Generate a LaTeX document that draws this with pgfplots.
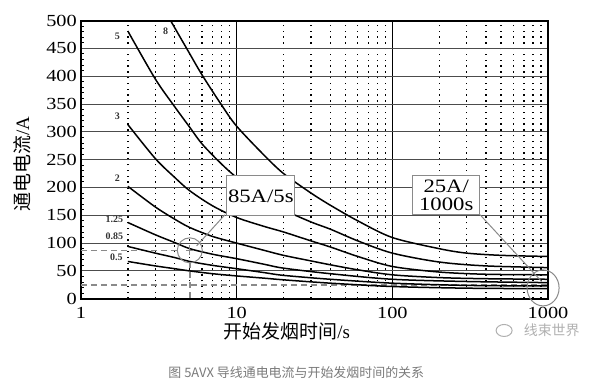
\documentclass[border=0pt]{standalone}
\usepackage{pgfplots}
\pgfplotsset{compat=1.18}
\usepackage{fontspec}
\setmainfont{Liberation Serif}
\newfontfamily\tickfont{Liberation Serif}[FakeStretch=1.2]
\newfontfamily\cjk{Noto Sans CJK SC}
\definecolor{capgray}{HTML}{7A7A7A}
\definecolor{wmgray}{HTML}{B0B0B0}
\definecolor{anngray}{HTML}{8A8A8A}
\begin{document}
\begin{tikzpicture}
\useasboundingbox (-81bp,-88.25bp) rectangle (515bp,298.75bp);
\begin{axis}[
  at={(0,0)}, anchor=south west,
  scale only axis, width=467bp, height=278.25bp,
  xmode=log, log basis x=10,
  xmin=1, xmax=1000, ymin=0, ymax=500,
  clip=false,
  xtick={1,10,100,1000}, xticklabels={1,10,100,1000},
  minor xtick={2,3,4,5,6,7,8,9,20,30,40,50,60,70,80,90,200,300,400,500,600,700,800,900},
  ytick={0,50,...,500},
  minor ytick={10,20,30,40,60,70,80,90,110,120,130,140,160,170,180,190,210,220,230,240,260,270,280,290,310,320,330,340,360,370,380,390,410,420,430,440,460,470,480,490},
  tick pos=left,
  major x tick style={draw=none},
  minor x tick style={draw=none},
  major y tick style={draw=none},
  minor y tick style={black, line width=0.8bp},
  minor tick length=3bp,
  /pgf/number format/assume math mode=true,
  xticklabel style={font=\tickfont\fontsize{17}{19}\selectfont, anchor=north, yshift=-8bp, inner sep=0pt},
  yticklabel style={font=\tickfont\fontsize{17}{19}\selectfont, anchor=east, xshift=-4bp, inner sep=0pt},
  ymajorgrids, xmajorgrids, xminorgrids,
  major y grid style={black!70, line width=0.9bp},
  major x grid style={black, line width=1.5bp},
  minor x grid style={black, line width=1.3bp, dash pattern=on 1.3bp off 4.5bp},
  axis line style={black, line width=2bp},
]
% dashed guide lines
\addplot[anngray, line width=1.5bp, dash pattern=on 6bp off 4bp] coordinates {(1,87) (4.2,87)};
\addplot[anngray, line width=1.5bp, dash pattern=on 6bp off 4bp] coordinates {(5,66) (5,0)};
\addplot[anngray, line width=1.5bp, dash pattern=on 6bp off 4bp] coordinates {(1,25) (1000,25)};
% curves (wire size 8, 5, 3, 2, 1.25, 0.85, 0.5)
\addplot[black, line width=1.5bp, smooth] coordinates {(3.76,500) (5,440) (6,402) (8,348) (10,310) (15,258) (20,225) (30,190) (40,168) (60,140) (100,110) (200,90) (300,82) (500,78) (1000,76)};
\addplot[black, line width=1.5bp, smooth] coordinates {(2,481) (3,395) (4,345) (5,308) (6,278) (8,242) (10,218) (15,182) (20,160) (30,138) (40,125) (60,104) (100,82) (200,66) (400,59) (1000,56)};
\addplot[black, line width=1.5bp, smooth] coordinates {(2,313) (3,252) (4,218) (5,194) (7,167) (10,146) (15,130) (20,120) (30,104) (40,93) (60,76) (100,58) (200,48) (400,44) (1000,43)};
\addplot[black, line width=1.5bp, smooth] coordinates {(2,202) (3,165) (4,143) (5,128) (7,112) (10,100) (15,87) (20,78) (30,68) (40,61) (60,52) (100,43) (200,38) (400,36) (1000,35)};
\addplot[black, line width=1.5bp, smooth] coordinates {(2,137) (3,115) (4,101) (5,90) (7,80) (10,72) (15,62) (20,55) (40,45) (100,35) (300,31) (1000,29)};
\addplot[black, line width=1.5bp, smooth] coordinates {(2,94) (3,82) (4,74) (5,67) (7,60) (10,54) (15,47) (20,42) (40,35) (100,28) (300,24) (1000,23)};
\addplot[black, line width=1.5bp, smooth] coordinates {(2,67) (3,59) (4,54) (5,50) (7,45) (10,41) (15,37) (20,34) (40,28) (100,22) (300,19) (1000,18)};
% curve labels
\begin{scope}[every node/.style={font=\bfseries\fontsize{10}{11}\selectfont, text=black!80, inner sep=0pt}]
\node at (axis cs:1.71,471) {5};
\node at (axis cs:3.5,480) {8};
\node at (axis cs:1.71,328) {3};
\node at (axis cs:1.71,217) {2};
\node at (axis cs:1.64,142) {1.25};
\node at (axis cs:1.64,112) {0.85};
\node at (axis cs:1.69,75) {0.5};
\end{scope}
% annotations
\draw[anngray, line width=1bp] (axis cs:5,87) circle[radius=12.5bp];
\draw[anngray, line width=1bp] (axis cs:5,79) -- (axis cs:5,96);
\draw[anngray, line width=1bp] ([xshift=-4bp]axis cs:5,87) -- ([xshift=4bp]axis cs:5,87);
\draw[anngray, line width=1bp] (axis cs:8.41,151) -- (axis cs:5.53,95);
\draw[anngray, line width=1bp] (axis cs:930,19.5) ellipse[x radius=16bp, y radius=18bp];
\draw[anngray, line width=1bp] (axis cs:366,151) -- (axis cs:910,31);
\node[draw=anngray, fill=white, line width=1bp, minimum width=68bp, minimum height=40bp, inner sep=0pt,
      font=\tickfont\fontsize{19}{20}\selectfont] at (axis cs:14.3,185) {85A/5s};
\node[draw=anngray, fill=white, line width=1bp, minimum width=67bp, minimum height=39bp, inner sep=0pt, align=center,
      font=\tickfont\fontsize{19}{18}\selectfont] at (axis cs:222,186) {25A/\\1000s};
% axis labels
\node[rotate=90, font=\fontsize{19}{20}\selectfont, inner sep=0pt] at (rel axis cs:-0.1263,0.484) {{\cjk 通电电流}/A};
\node[font=\fontsize{19}{20}\selectfont, inner sep=0pt] at (rel axis cs:0.441,-0.116) {{\cjk 开始发烟时间}/s};
% watermark and caption
\node[font=\cjk\fontsize{14}{15}\selectfont, text=wmgray, inner sep=0pt] at (rel axis cs:1.008,-0.114) {线束世界};
\draw[wmgray, line width=1bp] (rel axis cs:0.906,-0.114) ellipse[x radius=8bp, y radius=6bp];
\node[font=\cjk\fontsize{13}{14}\selectfont, text=capgray, inner sep=0pt] at (rel axis cs:0.461,-0.267) {图 5AVX 导线通电电流与开始发烟时间的关系};
\end{axis}
\end{tikzpicture}
\end{document}
